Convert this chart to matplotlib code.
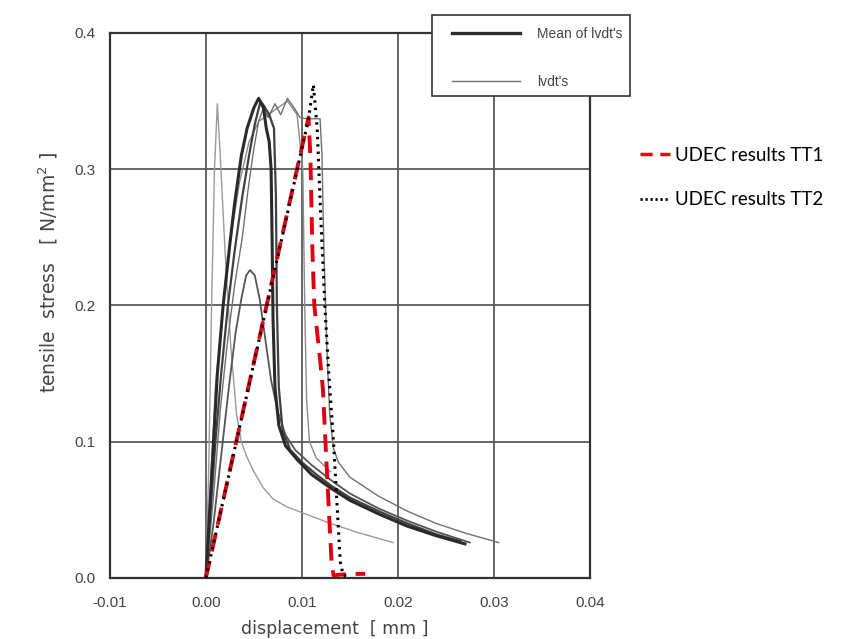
import numpy as np
import matplotlib
matplotlib.use("Agg")
import matplotlib.pyplot as plt
from matplotlib.lines import Line2D
from matplotlib.patches import Rectangle

# measured curves (displacement in mm, stress in N/mm2)
mean_x = [0, 0.0004, 0.0008, 0.0012, 0.0018, 0.0025, 0.003, 0.0037, 0.0043, 0.005, 0.0055, 0.006,
          0.0063, 0.0066, 0.0068, 0.0069, 0.007, 0.0072, 0.0076, 0.0083, 0.0095, 0.011, 0.013,
          0.015, 0.018, 0.021, 0.024, 0.027]
mean_y = [0, 0.05, 0.10, 0.15, 0.20, 0.245, 0.275, 0.31, 0.33, 0.345, 0.352, 0.345,
          0.33, 0.32, 0.30, 0.25, 0.19, 0.14, 0.112, 0.097, 0.087, 0.076, 0.066,
          0.057, 0.047, 0.038, 0.031, 0.025]

lvdt1_x = [0, 0.0005, 0.001, 0.0016, 0.0023, 0.003, 0.0038, 0.0045, 0.0051, 0.0057, 0.0061,
           0.0066, 0.0071, 0.0073, 0.0074, 0.0076, 0.008, 0.0088, 0.01, 0.0115, 0.013, 0.015,
           0.018, 0.021, 0.024, 0.0265]
lvdt1_y = [0, 0.05, 0.10, 0.15, 0.20, 0.24, 0.28, 0.31, 0.333, 0.35, 0.346,
           0.34, 0.33, 0.28, 0.2, 0.14, 0.108, 0.094, 0.085, 0.076, 0.068, 0.059,
           0.049, 0.040, 0.032, 0.027]

lvdt2_x = [0, 0.0008, 0.0016, 0.0024, 0.0031, 0.0037, 0.0042, 0.0046, 0.0051, 0.0056, 0.0062,
           0.0068, 0.0075, 0.0083, 0.0093, 0.011, 0.013, 0.015, 0.018, 0.021, 0.024, 0.0275]
lvdt2_y = [0, 0.04, 0.09, 0.14, 0.18, 0.205, 0.222, 0.226, 0.222, 0.205, 0.175,
           0.145, 0.122, 0.105, 0.094, 0.083, 0.072, 0.062, 0.051, 0.042, 0.034, 0.026]

lvdt3_x = [0, 0.0008, 0.0015, 0.0022, 0.003, 0.0038, 0.0044, 0.005, 0.0055, 0.006, 0.0065,
           0.0072, 0.0078, 0.0085, 0.0092, 0.0098, 0.0105, 0.0112, 0.0119, 0.0121, 0.0123,
           0.0126, 0.0129, 0.0133, 0.0138, 0.015, 0.018, 0.021, 0.024, 0.027, 0.0305]
lvdt3_y = [0, 0.06, 0.123, 0.17, 0.215, 0.25, 0.285, 0.315, 0.335, 0.345, 0.338,
           0.348, 0.34, 0.352, 0.345, 0.338, 0.337, 0.337, 0.337, 0.31, 0.24,
           0.17, 0.12, 0.095, 0.085, 0.074, 0.06, 0.049, 0.040, 0.033, 0.026]

lvdt4_x = [0, 0.0003, 0.0006, 0.0009, 0.0012, 0.0015, 0.002, 0.0026, 0.0032, 0.0037, 0.0042,
           0.005, 0.006, 0.007, 0.0085, 0.01, 0.013, 0.016, 0.0195]
lvdt4_y = [0, 0.08, 0.2, 0.3, 0.348, 0.31, 0.24, 0.17, 0.12, 0.1, 0.09,
           0.078, 0.066, 0.058, 0.052, 0.048, 0.04, 0.033, 0.026]

lvdt5_x = [0, 0.0005, 0.001, 0.0018, 0.0026, 0.0035, 0.0045, 0.0055, 0.0065, 0.0075, 0.0085,
           0.0095, 0.0101, 0.0103, 0.0105, 0.0108, 0.0115, 0.013]
lvdt5_y = [0, 0.07, 0.14, 0.2, 0.25, 0.29, 0.32, 0.335, 0.34, 0.345, 0.35,
           0.34, 0.3, 0.2, 0.13, 0.1, 0.088, 0.078]

# UDEC numerical results
tt1_x = [0, 0.0107, 0.0109, 0.0111, 0.0113, 0.0119, 0.0122, 0.0125, 0.0128, 0.0131, 0.0133, 0.0150, 0.0166]
tt1_y = [0, 0.338, 0.307, 0.241, 0.200, 0.160, 0.138, 0.094, 0.052, 0.011, 0.002, 0.003, 0.003]

tt2_x = [0, 0.0107, 0.0112, 0.0116, 0.0120, 0.0124, 0.0128, 0.0133, 0.0137, 0.0140, 0.0143, 0.0150]
tt2_y = [0, 0.337, 0.362, 0.33, 0.26, 0.20, 0.15, 0.10, 0.05, 0.012, 0.002, 0.001]

xticks = [-0.01, 0.00, 0.01, 0.02, 0.03, 0.04]
yticks = [0.0, 0.1, 0.2, 0.3, 0.4]

plt.rcParams['font.family'] = ['Liberation Sans', 'DejaVu Sans']

fig = plt.figure(figsize=(8.45, 6.39), dpi=100)
ax = fig.add_axes([0.130, 0.0955, 0.568, 0.853])

ax.plot(lvdt4_x, lvdt4_y, color='#9a9a9a', lw=1.0, zorder=3)
ax.plot(lvdt5_x, lvdt5_y, color='#8a8a8a', lw=1.0, zorder=3)
ax.plot(lvdt3_x, lvdt3_y, color='#707070', lw=1.0, zorder=3)
ax.plot(lvdt2_x, lvdt2_y, color='#555555', lw=1.3, zorder=3)
ax.plot(lvdt1_x, lvdt1_y, color='#404040', lw=1.6, zorder=3)
ax.plot(mean_x, mean_y, color='#2a2a2a', lw=2.2, zorder=4)

ax.plot(tt1_x, tt1_y, color='#e00010', lw=2.8, dashes=(4.5, 2.5), zorder=5)
ax.plot(tt2_x, tt2_y, color='black', lw=2.2, dashes=(0.8, 1.6), zorder=6)

ax.set_xlim(-0.01, 0.04)
ax.set_ylim(0, 0.4)
ax.set_xticks(xticks)
ax.set_yticks(yticks)
ax.set_xticklabels(['%.2f' % v for v in xticks])
ax.set_yticklabels(['%.1f' % v for v in yticks])
ax.tick_params(length=0, labelsize=11, labelcolor='#444444')
ax.tick_params(axis='x', pad=13)
ax.tick_params(axis='y', pad=10)
ax.grid(True, color='#5a5a5a', lw=1.3)
ax.set_axisbelow(True)
for s in ax.spines.values():
    s.set_color('#333333')
    s.set_linewidth(1.6)

ax.set_xlabel('displacement  [ mm ]', fontsize=12.5, color='#444444', family=['DejaVu Sans'])
ax.set_ylabel('tensile  stress   [ N/mm$^2$ ]', fontsize=13.5, color='#444444', family=['DejaVu Sans'])
ax.xaxis.set_label_coords(0.469, -0.078)
ax.yaxis.set_label_coords(-0.103, 0.56)

# legend of the measurements, white box drawn over the top of the axes
fig.add_artist(Rectangle((432 / 845, 1 - 96 / 639), 198 / 845, 81 / 639, transform=fig.transFigure,
                         facecolor='white', edgecolor='#333333', lw=1.2, zorder=2))
h1 = [Line2D([0], [0], color='#2a2a2a', lw=2.4), Line2D([0], [0], color='#707070', lw=1.0)]
leg1 = fig.legend(h1, ["Mean of lvdt's", "lvdt's"], loc='upper left',
                  bbox_to_anchor=(452 / 845, 0.958), bbox_transform=fig.transFigure,
                  frameon=False, borderaxespad=0, borderpad=0, fontsize=10,
                  handlelength=4.9, handletextpad=1.2, labelspacing=2.45)
for t in leg1.get_texts():
    t.set_color('#444444')

# legend of the UDEC results
h2 = [Line2D([0], [0], color='red', lw=2.5, dashes=(3.5, 2.2)),
      Line2D([0], [0], color='black', lw=2.0, dashes=(0.8, 1.0))]
leg2 = fig.legend(h2, ['UDEC results TT1', 'UDEC results TT2'], loc='upper left',
                  bbox_to_anchor=(0.757, 0.770), bbox_transform=fig.transFigure,
                  frameon=False, borderaxespad=0, borderpad=0,
                  handlelength=1.6, handletextpad=0.3, labelspacing=1.45,
                  prop={'family': ['Lato', 'DejaVu Sans'], 'size': 13.5})

fig.savefig('out.png', dpi=100)
